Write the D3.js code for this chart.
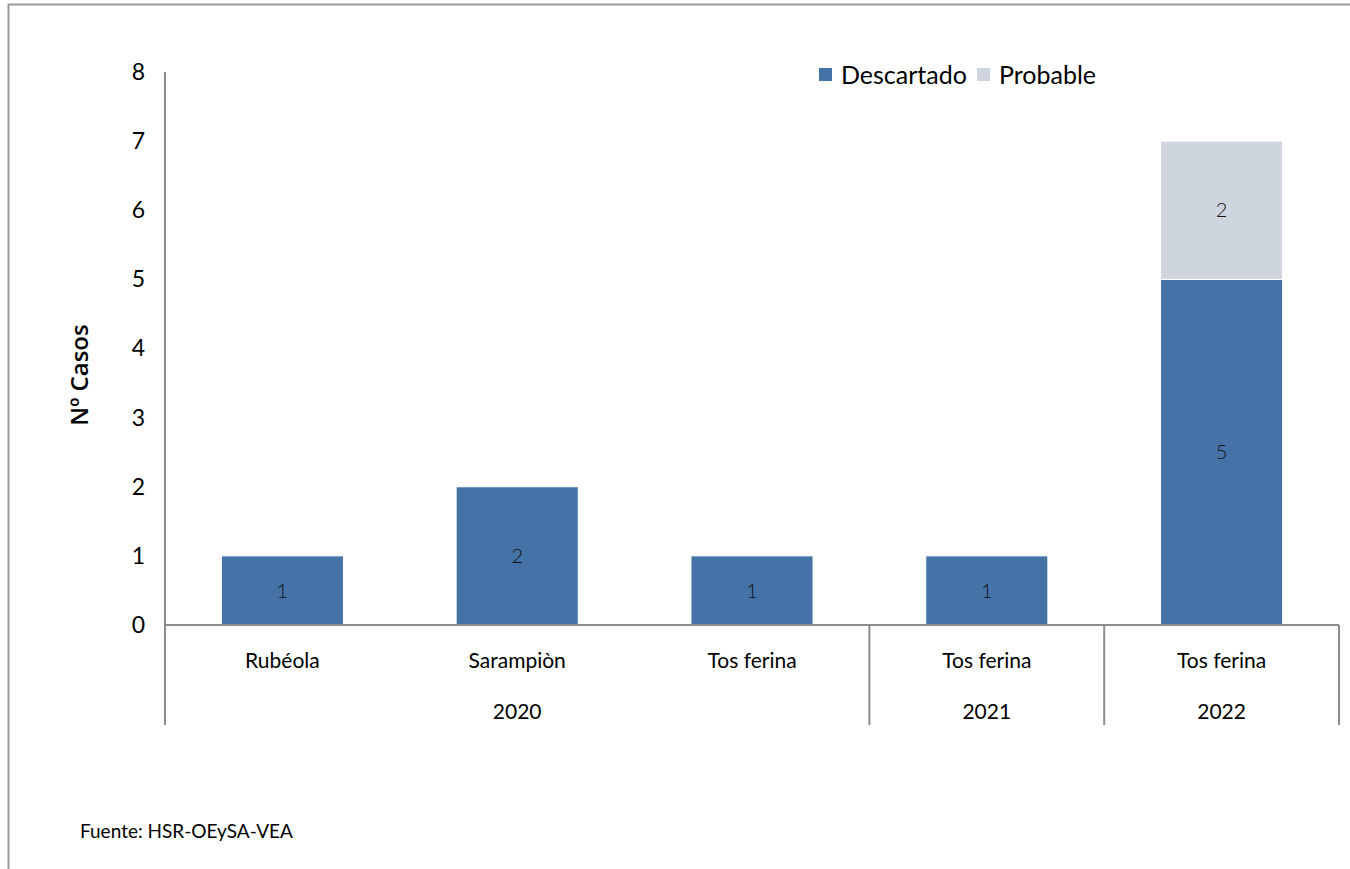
<!DOCTYPE html>
<html>
<head>
<meta charset="utf-8">
<script src="https://cdn.jsdelivr.net/npm/d3@7"></script>
<style>
  body { margin: 0; background: #fff; }
  svg { display: block; }
</style>
</head>
<body>
<div id="chart"></div>
<script>
// data
const categories = ["Rubéola", "Sarampiòn", "Tos ferina", "Tos ferina", "Tos ferina"];
const years = ["2020", "2020", "2020", "2021", "2022"];
const descartado = [1, 2, 1, 1, 5];
const probable = [0, 0, 0, 0, 2];
const seriesNames = ["Descartado", "Probable"];
const yTicks = [0, 1, 2, 3, 4, 5, 6, 7, 8];

const width = 1350, height = 869;
const font = "Lato, 'Open Sans', sans-serif";
const colors = ["#4573A7", "#CED5DF"];

const svg = d3.select("#chart").append("svg")
  .attr("width", width)
  .attr("height", height);

// outer frame
svg.append("rect")
  .attr("x", 8.5).attr("y", 4.5)
  .attr("width", width + 20).attr("height", height + 20)
  .attr("fill", "none")
  .attr("stroke", "#999")
  .attr("stroke-width", 2);

const plotLeft = 165, plotRight = 1339, plotTop = 72, base = 625;

const rows = categories.map(function(c, i) {
  return { key: i, cat: c, year: years[i], Descartado: descartado[i], Probable: probable[i] };
});

const x = d3.scaleBand()
  .domain(rows.map(d => d.key))
  .range([plotLeft, plotRight])
  .paddingInner(0.48)
  .paddingOuter(0.24);

const y = d3.scaleLinear()
  .domain([0, 8])
  .range([base, plotTop]);

const stack = d3.stack().keys(seriesNames);
const stacked = stack(rows);

// bars
const layers = svg.selectAll(".layer")
  .data(stacked)
  .enter().append("g")
  .attr("class", "layer")
  .attr("fill", (d, i) => colors[i]);

layers.selectAll("rect")
  .data(d => d.filter(s => s[1] - s[0] > 0))
  .enter().append("rect")
  .attr("x", d => x(d.data.key))
  .attr("width", x.bandwidth())
  .attr("y", d => y(d[1]))
  .attr("height", d => y(d[0]) - y(d[1]))
  .attr("stroke", "#fff")
  .attr("stroke-width", 1);

// value labels
layers.selectAll("text")
  .data(d => d.filter(s => s[1] - s[0] > 0))
  .enter().append("text")
  .attr("x", d => x(d.data.key) + x.bandwidth() / 2)
  .attr("y", d => (y(d[0]) + y(d[1])) / 2)
  .attr("dy", "0.36em")
  .attr("text-anchor", "middle")
  .style("font-family", font)
  .style("font-size", "20px")
  .style("font-weight", 300)
  .style("fill", "#111")
  .text(d => d[1] - d[0]);

// y axis
const yAxis = d3.axisLeft(y)
  .tickValues(yTicks)
  .tickSize(0)
  .tickPadding(20);

const yg = svg.append("g")
  .attr("transform", "translate(" + plotLeft + ",0)")
  .call(yAxis);
yg.select(".domain").remove();
yg.selectAll("text")
  .style("font-family", font)
  .style("font-size", "23px")
  .style("fill", "#000");

// axis lines
svg.append("line")
  .attr("x1", plotLeft).attr("x2", plotLeft)
  .attr("y1", plotTop).attr("y2", 725)
  .attr("stroke", "#8c8c8c").attr("stroke-width", 2);
svg.append("line")
  .attr("x1", plotLeft).attr("x2", plotRight)
  .attr("y1", base).attr("y2", base)
  .attr("stroke", "#8c8c8c").attr("stroke-width", 2);

// category labels
svg.selectAll(".cat")
  .data(rows)
  .enter().append("text")
  .attr("class", "cat")
  .attr("x", d => x(d.key) + x.bandwidth() / 2)
  .attr("y", 668)
  .attr("text-anchor", "middle")
  .style("font-family", font)
  .style("font-size", "21px")
  .style("fill", "#000")
  .text(d => d.cat);

// year groups
const step = x.step();
const groups = d3.groups(rows, d => d.year).map(function(g) {
  const first = g[1][0].key, last = g[1][g[1].length - 1].key;
  return {
    year: g[0],
    x0: x(first) - x.paddingOuter() * step,
    x1: x(last) + x.bandwidth() + x.paddingOuter() * step
  };
});

svg.selectAll(".gline")
  .data(groups)
  .enter().append("line")
  .attr("class", "gline")
  .attr("x1", d => d.x1).attr("x2", d => d.x1)
  .attr("y1", base).attr("y2", 725)
  .attr("stroke", "#8c8c8c").attr("stroke-width", 2);

svg.selectAll(".year")
  .data(groups)
  .enter().append("text")
  .attr("class", "year")
  .attr("x", d => (d.x0 + d.x1) / 2)
  .attr("y", 719)
  .attr("text-anchor", "middle")
  .style("font-family", font)
  .style("font-size", "21px")
  .style("fill", "#000")
  .text(d => d.year);

// y axis title
svg.append("text")
  .attr("transform", "translate(88,375) rotate(-90)")
  .attr("text-anchor", "middle")
  .style("font-family", "'Open Sans', sans-serif")
  .style("font-size", "24px")
  .style("font-weight", 600)
  .style("fill", "#000")
  .text("Nº Casos");

// legend
const legendX = [819, 977];
const legend = svg.selectAll(".legend")
  .data(seriesNames)
  .enter().append("g")
  .attr("class", "legend")
  .attr("transform", (d, i) => "translate(" + legendX[i] + ",68)");
legend.append("rect")
  .attr("width", 13).attr("height", 13)
  .attr("fill", (d, i) => colors[i]);
legend.append("text")
  .attr("x", 22).attr("y", 7)
  .attr("dy", "0.36em")
  .style("font-family", font)
  .style("font-size", "25px")
  .style("fill", "#000")
  .text(d => d);

// source
svg.append("text")
  .attr("x", 80).attr("y", 838)
  .style("font-family", font)
  .style("font-size", "19px")
  .style("fill", "#000")
  .text("Fuente:  HSR-OEySA-VEA");
</script>
</body>
</html>
